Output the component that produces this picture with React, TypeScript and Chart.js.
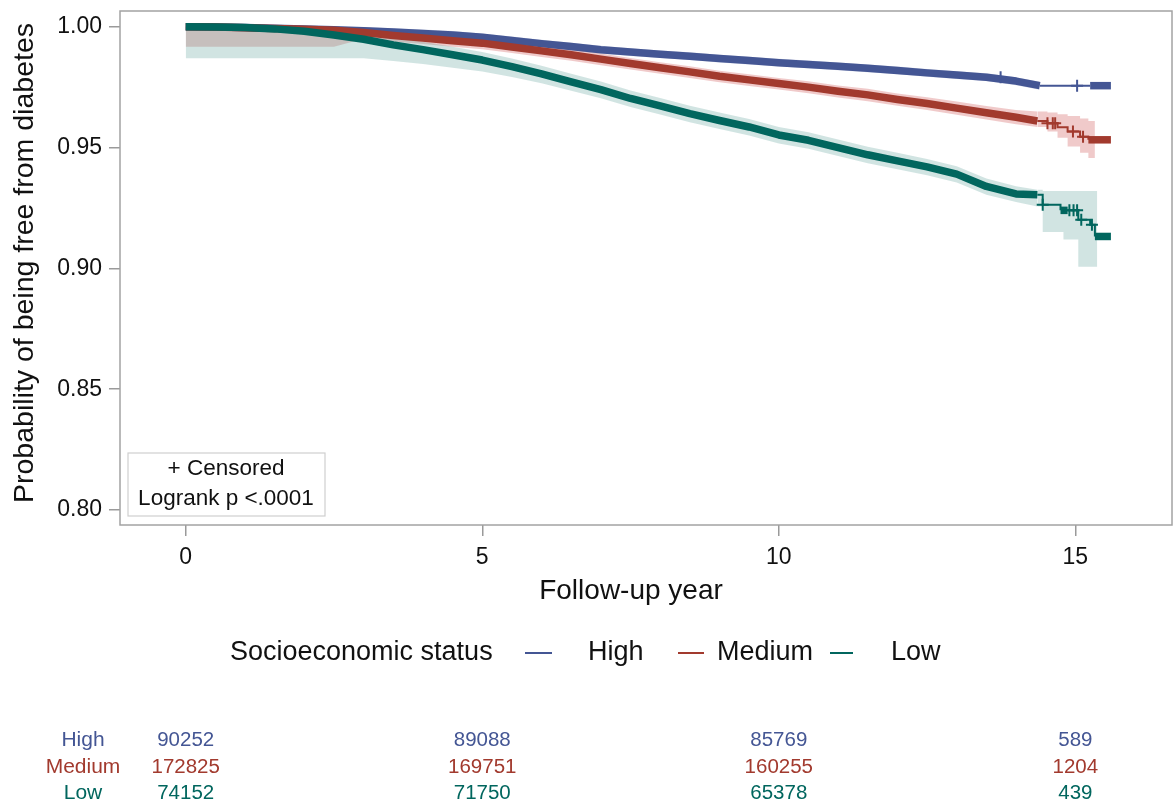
import React, { useEffect, useRef } from 'react';
import { Chart, registerables } from 'chart.js';

Chart.register(...registerables);

const FONT = "'Liberation Sans', Arial, Helvetica, sans-serif";

const groupNames = ['High', 'Medium', 'Low'];
const groupColors = ['#445694', '#A23A2E', '#01665E'];
const bandColors = ['rgba(111,126,179,0.30)', 'rgba(208,91,91,0.32)', 'rgba(102,165,160,0.30)'];

const xTickValues = [0, 5, 10, 15];
const yTickValues = [0.8, 0.85, 0.9, 0.95, 1.0];

// ---- High ----
const highTime = [0, 0.5, 1, 1.5, 2, 2.5, 3, 3.5, 4, 4.5, 5, 5.5, 6, 6.5, 7, 7.5, 8, 8.5, 9, 9.5, 10, 10.5, 11, 11.5, 12, 12.5, 13, 13.5, 14, 14.4];
const highSurv = [1.0, 0.9999, 0.9997, 0.9994, 0.9991, 0.9987, 0.9983, 0.9978, 0.9972, 0.9966, 0.9956, 0.9943, 0.993, 0.9918, 0.9905, 0.9895, 0.9886, 0.9878, 0.9868, 0.986, 0.9851, 0.9844, 0.9836, 0.9828, 0.9819, 0.9809, 0.98, 0.9791, 0.9775, 0.9756];
const highTailTime = [14.4, 15.25, 15.6];
const highTailSurv = [0.9756, 0.9756, 0.9756];
const highTailThick = [[15.25, 15.6]];
const highCensor = [13.74, 15.03];
const highLower = [0.9984, 0.9983, 0.9981, 0.9978, 0.9975, 0.9971, 0.9967, 0.9962, 0.9956, 0.995, 0.994, 0.9927, 0.9914, 0.9902, 0.9889, 0.9879, 0.987, 0.9862, 0.9852, 0.9844, 0.9835, 0.9828, 0.982, 0.9812, 0.9803, 0.9793, 0.9784, 0.9775, 0.9758, 0.9739];
const highUpper = [1.0, 1.0, 1.0, 1.0, 1.0, 1.0, 0.9999, 0.9994, 0.9988, 0.9982, 0.9972, 0.9959, 0.9946, 0.9934, 0.9921, 0.9911, 0.9902, 0.9894, 0.9884, 0.9876, 0.9867, 0.986, 0.9852, 0.9844, 0.9835, 0.9825, 0.9816, 0.9807, 0.9791, 0.9772];

// ---- Medium ----
const mediumTime = [0, 0.5, 1, 1.5, 2, 2.5, 3, 3.5, 4, 4.5, 5, 5.5, 6, 6.5, 7, 7.5, 8, 8.5, 9, 9.5, 10, 10.5, 11, 11.5, 12, 12.5, 13, 13.5, 14, 14.36];
const mediumSurv = [1.0, 0.9999, 0.9996, 0.9993, 0.999, 0.9985, 0.9976, 0.9964, 0.9953, 0.9942, 0.9932, 0.9916, 0.99, 0.9884, 0.9866, 0.9848, 0.983, 0.9813, 0.9795, 0.978, 0.9765, 0.975, 0.9733, 0.9718, 0.9699, 0.9682, 0.9663, 0.9644, 0.9625, 0.961];
const mediumTailTime = [14.36, 14.53, 14.7, 14.87, 15.08, 15.22, 15.6];
const mediumTailSurv = [0.961, 0.9601, 0.9584, 0.9566, 0.9545, 0.9532, 0.9532];
const mediumTailThick = [[15.22, 15.6]];
const mediumCensor = [14.53, 14.62, 14.66, 14.96, 15.13];
const mediumLower = [0.9917, 0.9917, 0.9917, 0.9917, 0.9917, 0.9917, 0.995, 0.9939, 0.9928, 0.9917, 0.9907, 0.9891, 0.9875, 0.9859, 0.9841, 0.9823, 0.9805, 0.9788, 0.977, 0.9755, 0.974, 0.9725, 0.9707, 0.9692, 0.9673, 0.9655, 0.9636, 0.9616, 0.9596, 0.9585];
const mediumUpper = [1.0, 1.0, 1.0, 1.0, 1.0, 1.0, 0.9998, 0.9987, 0.9976, 0.9965, 0.9955, 0.9939, 0.9923, 0.9907, 0.9889, 0.9871, 0.9853, 0.9836, 0.9818, 0.9803, 0.9788, 0.9774, 0.9757, 0.9743, 0.9724, 0.9708, 0.969, 0.9672, 0.9655, 0.9649];
const mediumTailBandTime = [14.36, 14.53, 14.7, 14.87, 15.08, 15.22, 15.33];
const mediumTailLower = [0.9585, 0.9566, 0.954, 0.9504, 0.9478, 0.9457, 0.9457];
const mediumTailUpper = [0.9649, 0.9645, 0.9638, 0.963, 0.962, 0.961, 0.961];

// ---- Low ----
const lowTime = [0, 0.5, 1, 1.5, 2, 2.5, 3, 3.5, 4, 4.5, 5, 5.5, 6, 6.5, 7, 7.5, 8, 8.5, 9, 9.5, 10, 10.5, 11, 11.5, 12, 12.5, 13, 13.5, 14, 14.36];
const lowSurv = [1.0, 0.9999, 0.9997, 0.9991, 0.9981, 0.9966, 0.9948, 0.9925, 0.9905, 0.9884, 0.9862, 0.9835, 0.9805, 0.9772, 0.974, 0.9703, 0.9672, 0.964, 0.9612, 0.9585, 0.9552, 0.953, 0.95, 0.947, 0.9445, 0.942, 0.939, 0.9339, 0.9308, 0.9305];
const lowTailTime = [14.36, 14.45, 14.75, 14.87, 15.05, 15.25, 15.33, 15.6];
const lowTailSurv = [0.9305, 0.9263, 0.924, 0.924, 0.9201, 0.918, 0.9132, 0.9132];
const lowTailThick = [[14.75, 14.87], [15.33, 15.6]];
const lowCensor = [14.45, 14.9, 14.97, 15.03, 15.1, 15.28];
const lowLower = [0.9869, 0.9869, 0.9869, 0.9869, 0.9869, 0.9869, 0.9869, 0.9858, 0.9846, 0.983, 0.9815, 0.9792, 0.9766, 0.9735, 0.9704, 0.9668, 0.9637, 0.9605, 0.9577, 0.955, 0.9517, 0.9495, 0.9465, 0.9435, 0.941, 0.9385, 0.9355, 0.9305, 0.9275, 0.9256];
const lowUpper = [1.0, 1.0, 1.0, 1.0, 1.0, 0.9995, 0.998, 0.9958, 0.9938, 0.9917, 0.9895, 0.9868, 0.9838, 0.9805, 0.9773, 0.9736, 0.9705, 0.9673, 0.9645, 0.9618, 0.9585, 0.9563, 0.9533, 0.9503, 0.9478, 0.9453, 0.9423, 0.9372, 0.934, 0.9325];
const lowTailBandTime = [14.36, 14.45, 14.8, 15.05, 15.37];
const lowTailLower = [0.9256, 0.915, 0.9119, 0.9007, 0.9007];
const lowTailUpper = [0.9325, 0.932, 0.932, 0.932, 0.932];

// ---- Number at risk ----
const atRiskHigh = [90252, 89088, 85769, 589];
const atRiskMedium = [172825, 169751, 160255, 1204];
const atRiskLow = [74152, 71750, 65378, 439];

const pts = (t: number[], v: number[]) => t.map((x, i) => ({ x, y: v[i] }));
const survAt = (t: number[], s: number[], x: number) => {
  let v = s[0];
  for (let i = 0; i < t.length; i++) if (t[i] <= x) v = s[i];
  return v;
};
const inRanges = (r: number[][], a: number, b: number) =>
  r.some(([lo, hi]) => a >= lo - 1e-9 && b <= hi + 1e-9);

const denseDs = (label: string, t: number[], s: number[], color: string) => ({
  label,
  data: pts(t, s),
  borderColor: color,
  backgroundColor: color,
  borderWidth: 7.5,
  pointRadius: 0,
  pointHitRadius: 0,
  fill: false,
  borderCapStyle: 'butt',
  borderJoinStyle: 'round',
});

const tailDs = (label: string, t: number[], s: number[], color: string, thick: number[][]) => ({
  label,
  data: pts(t, s),
  borderColor: color,
  backgroundColor: color,
  borderWidth: 2,
  stepped: 'before',
  pointRadius: 0,
  pointHitRadius: 0,
  fill: false,
  borderCapStyle: 'butt',
  borderJoinStyle: 'miter',
  segment: {
    borderWidth: (c: any) => (inRanges(thick, c.p0.parsed.x, c.p1.parsed.x) ? 7.5 : 2),
  },
});

const censorDs = (label: string, t: number[], s: number[], cens: number[], color: string) => ({
  label,
  data: cens.map((x) => ({ x, y: survAt(t, s, x) })),
  showLine: false,
  pointStyle: 'cross',
  pointRadius: 6,
  pointBorderWidth: 2,
  borderColor: color,
  backgroundColor: color,
});

const bandDs = (label: string, t: number[], up: number[], lo: number[], fillColor: string, stepped: any) => [
  {
    label: label + ' upper',
    data: pts(t, up),
    borderColor: 'rgba(0,0,0,0)',
    borderWidth: 0,
    pointRadius: 0,
    stepped,
    fill: '+1',
    backgroundColor: fillColor,
  },
  {
    label: label + ' lower',
    data: pts(t, lo),
    borderColor: 'rgba(0,0,0,0)',
    borderWidth: 0,
    pointRadius: 0,
    stepped,
    fill: false,
    backgroundColor: fillColor,
  },
];

const decorPlugin = {
  id: 'decor',
  afterDraw(chart: any) {
    const { ctx, chartArea: a, scales } = chart;
    ctx.save();
    // plot frame
    ctx.strokeStyle = '#a3a3a3';
    ctx.lineWidth = 1.5;
    ctx.strokeRect(a.left, a.top, a.right - a.left, a.bottom - a.top);

    // axis titles
    ctx.fillStyle = '#111';
    ctx.textAlign = 'center';
    ctx.textBaseline = 'middle';
    ctx.font = `28px ${FONT}`;
    ctx.fillText('Follow-up year', 631, 591);
    ctx.save();
    ctx.translate(25, 263);
    ctx.rotate(-Math.PI / 2);
    ctx.font = `28.5px ${FONT}`;
    ctx.fillText('Probability of being free from diabetes', 0, 0);
    ctx.restore();

    // censored / logrank box
    ctx.strokeStyle = '#cfcfcf';
    ctx.lineWidth = 1.2;
    ctx.strokeRect(128, 453, 197, 63);
    ctx.fillStyle = '#111';
    ctx.font = `22.5px ${FONT}`;
    ctx.fillText('+ Censored', 226, 469);
    ctx.fillText('Logrank p <.0001', 226, 499);

    // legend
    ctx.textAlign = 'left';
    ctx.font = `27px ${FONT}`;
    ctx.fillStyle = '#111';
    ctx.fillText('Socioeconomic status', 230, 653);
    const dashes = [[525, 552], [678, 704], [830, 853]];
    const labelX = [588, 717, 891];
    for (let i = 0; i < 3; i++) {
      ctx.strokeStyle = groupColors[i];
      ctx.lineWidth = 2;
      ctx.beginPath();
      ctx.moveTo(dashes[i][0], 653);
      ctx.lineTo(dashes[i][1], 653);
      ctx.stroke();
      ctx.fillStyle = '#111';
      ctx.fillText(groupNames[i], labelX[i], 653);
    }

    // number at risk table
    const rows = [atRiskHigh, atRiskMedium, atRiskLow];
    const rowY = [740, 767, 793];
    ctx.textAlign = 'center';
    for (let r = 0; r < 3; r++) {
      ctx.fillStyle = groupColors[r];
      ctx.font = `21px ${FONT}`;
      ctx.fillText(groupNames[r], 83, rowY[r]);
      ctx.font = `20.5px ${FONT}`;
      for (let c = 0; c < xTickValues.length; c++) {
        const px = scales.x.getPixelForValue(xTickValues[c]);
        ctx.fillText(String(rows[r][c]), px, rowY[r]);
      }
    }
    ctx.restore();
  },
};

export default function App() {
  const ref = useRef<HTMLCanvasElement | null>(null);
  useEffect(() => {
    if (!ref.current) return;
    const datasets: any[] = [
      censorDs('Low censored', lowTailTime, lowTailSurv, lowCensor, groupColors[2]),
      censorDs('Medium censored', mediumTailTime, mediumTailSurv, mediumCensor, groupColors[1]),
      censorDs('High censored', highTime.concat(highTailTime), highSurv.concat(highTailSurv), highCensor, groupColors[0]),
      denseDs('Low', lowTime, lowSurv, groupColors[2]),
      tailDs('Low tail', lowTailTime, lowTailSurv, groupColors[2], lowTailThick),
      denseDs('Medium', mediumTime, mediumSurv, groupColors[1]),
      tailDs('Medium tail', mediumTailTime, mediumTailSurv, groupColors[1], mediumTailThick),
      denseDs('High', highTime, highSurv, groupColors[0]),
      tailDs('High tail', highTailTime, highTailSurv, groupColors[0], highTailThick),
      ...bandDs('Low', lowTime, lowUpper, lowLower, bandColors[2], false),
      ...bandDs('Low tail', lowTailBandTime, lowTailUpper, lowTailLower, bandColors[2], 'before'),
      ...bandDs('Medium', mediumTime, mediumUpper, mediumLower, bandColors[1], false),
      ...bandDs('Medium tail', mediumTailBandTime, mediumTailUpper, mediumTailLower, bandColors[1], 'before'),
      ...bandDs('High', highTime, highUpper, highLower, bandColors[0], false),
    ];
    const chart = new Chart(ref.current, {
      type: 'line',
      data: { datasets },
      options: {
        responsive: false,
        animation: false,
        events: [],
        layout: { autoPadding: false, padding: { left: 0, top: 11, right: 4, bottom: 193 } },
        plugins: { legend: { display: false }, tooltip: { enabled: false } },
        scales: {
          x: {
            type: 'linear',
            min: -1.108,
            max: 16.63,
            afterBuildTicks: (s: any) => {
              s.ticks = xTickValues.map((v) => ({ value: v }));
            },
            afterFit: (s: any) => {
              s.height = 90;
              s.paddingLeft = 0;
              s.paddingRight = 0;
            },
            ticks: {
              font: { family: FONT, size: 23 },
              color: '#111',
              padding: 8,
              maxRotation: 0,
              callback: (v: any) => String(v),
            },
            grid: { drawOnChartArea: false, drawTicks: true, tickLength: 11, color: '#9a9a9a', lineWidth: 1.5 },
            border: { display: false },
          },
          y: {
            type: 'linear',
            min: 0.7938,
            max: 1.0065,
            afterBuildTicks: (s: any) => {
              s.ticks = yTickValues.map((v) => ({ value: v }));
            },
            afterFit: (s: any) => {
              s.width = 120;
              s.paddingTop = 0;
              s.paddingBottom = 0;
            },
            ticks: {
              font: { family: FONT, size: 23 },
              color: '#111',
              padding: 7,
              callback: (v: any) => Number(v).toFixed(2),
            },
            grid: { drawOnChartArea: false, drawTicks: true, tickLength: 11, color: '#9a9a9a', lineWidth: 1.5 },
            border: { display: false },
          },
        },
      },
      plugins: [decorPlugin],
    } as any);
    return () => chart.destroy();
  }, []);
  return (
    <div style={{ position: 'absolute', left: 0, top: 0, width: 1176, height: 808, background: '#fff' }}>
      <canvas ref={ref} width={1176} height={808} style={{ width: 1176, height: 808, display: 'block' }} />
    </div>
  );
}
